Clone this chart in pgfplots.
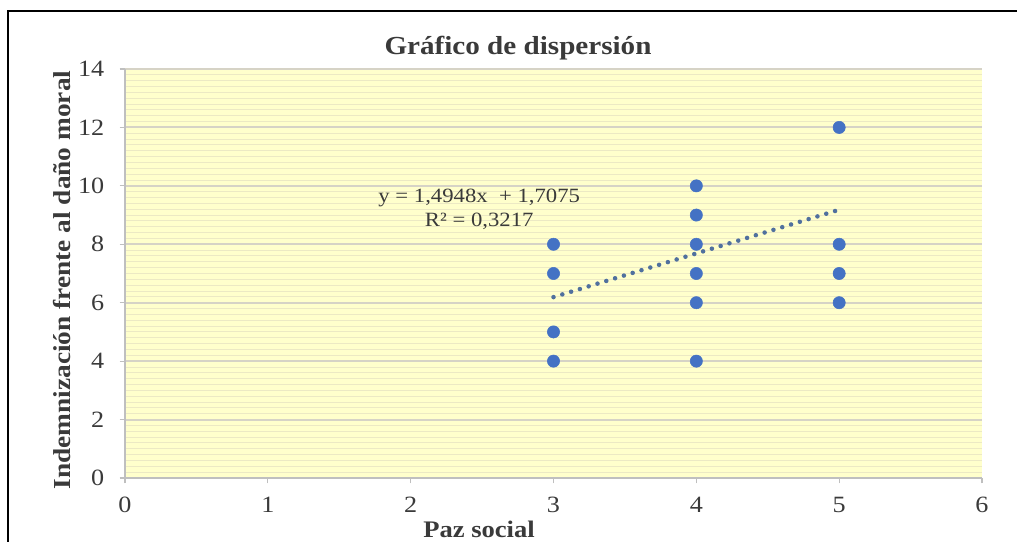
\documentclass[border=0pt]{standalone}
\usepackage{fontspec}
\setmainfont{Liberation Serif}[FakeStretch=1.12]
\usepackage{pgfplots}
\pgfplotsset{compat=1.18}
\definecolor{bgY}{HTML}{FFFFCC}
\definecolor{majG}{HTML}{D6D3C6}
\definecolor{minG}{HTML}{ECE9C4}
\definecolor{axG}{HTML}{BFBFBF}
\definecolor{txtG}{HTML}{3A3A3A}
\definecolor{ptB}{HTML}{4472C4}
\definecolor{trB}{HTML}{50709E}
\begin{document}
\begin{tikzpicture}[x=0.75pt,y=0.75pt]
\useasboundingbox (0,0) rectangle (1017,542);
\fill[white] (0,0) rectangle (1017,542);
\draw[black, line width=1.5pt] (8,0) -- (8,531) -- (1017,531);
\begin{axis}[
  at={(93.75pt,48pt)}, anchor=south west,
  scale only axis, width=642.75pt, height=306.75pt,
  xmin=0, xmax=6, ymin=0, ymax=14,
  xtick={0,1,2,3,4,5,6}, ytick={0,2,4,6,8,10,12,14},
  minor y tick num=9,
  ymajorgrids, yminorgrids,
  major grid style={majG, line width=1.5pt},
  minor grid style={minG, line width=0.7pt},
  axis background/.style={fill=bgY},
  axis x line=bottom, axis y line=left,
  axis line style={-, axG, line width=0.8pt},
  tick align=outside,
  major tick length=4pt, minor tick length=0pt,
  tick style={axG, line width=0.8pt},
  /pgf/number format/assume math mode=true,
  ticklabel style={font=\fontsize{17.5}{20}\selectfont, text=txtG},
  xticklabel style={yshift=-7pt},
  yticklabel style={xshift=-8pt},
  clip=false,
]
\addplot[only marks, mark=*, mark size=4.6pt, color=ptB] coordinates {
 (3,4) (3,5) (3,7) (3,8)
 (4,4) (4,6) (4,7) (4,8) (4,9) (4,10)
 (5,6) (5,7) (5,8) (5,12)
};
\addplot[trB, line width=3.4pt, line cap=round, dash pattern=on 0pt off 6.9pt] coordinates {(3,6.192) (5,9.182)};
\node[text=txtG, font=\fontsize{15.2}{17}\selectfont] at (axis cs:2.48,9.59) {y = 1,4948x \ + 1,7075};
\node[text=txtG, font=\fontsize{15.2}{17}\selectfont] at (axis cs:2.48,8.77) {R² = 0,3217};
\end{axis}
\node[text=txtG, font=\fontsize{19.5}{22}\selectfont\bfseries] at (518,494) {Gráfico de dispersión};
\node[text=txtG, font=\fontsize{17.8}{20}\selectfont\bfseries] at (479,13) {Paz social};
\node[text=txtG, font=\fontsize{18.3}{20}\selectfont\bfseries, rotate=90] at (62,262) {Indemnización frente al daño moral};
\end{tikzpicture}
\end{document}
